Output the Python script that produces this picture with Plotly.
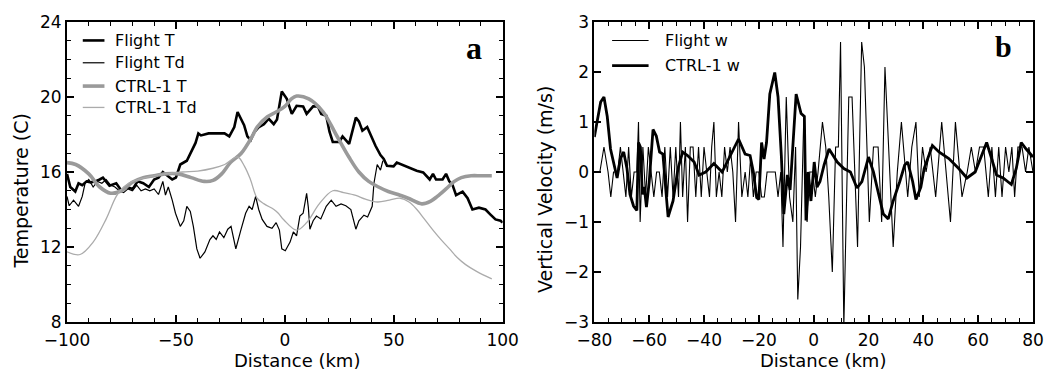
import plotly.graph_objects as go

# ---------------- Panel a data ----------------
flight_T_x = [-100, -98.5, -96.2, -94.7, -93, -91, -89, -87, -85, -83.5,
              -80.5, -77.4, -75, -72.7, -69.8, -67.6, -65, -62.4, -60, -58,
              -56, -54, -51.7, -50, -48, -45, -42.7, -41, -39.7, -38.5,
              -35, -30, -27.7, -25.5, -23.2, -21.7, -20.2, -18.7, -17.2, -15.7,
              -14.2, -11.9, -9.6, -7.4, -5.1, -3.6, -1.4, 0.9, 3.2, 5.4,
              8.4, 10, 13, 15.2, 16.7, 19, 20.5, 22, 25, 26.5,
              29.5, 32.6, 34, 35.6, 37.8, 39.4, 41.6, 43.9, 45.4, 46.9,
              49.9, 51.4, 54.4, 57.5, 60.5, 63.5, 66.5, 68, 69.4, 72.4,
              74, 75.5, 77, 78.6, 81.6, 83.9, 86.1, 89.1, 92.1, 94.4,
              96.7, 99, 100]
flight_T = [15.9, 15.2, 14.96, 15.4, 15.3, 15.5, 15.45, 15.5, 15.6, 15.7,
            15.27, 15.4, 15.0, 15.2, 15.1, 15.5, 15.4, 15.2, 15.6, 15.7,
            16.0, 15.8, 15.6, 15.7, 16.4, 16.6, 17.1, 17.55, 18.06, 17.95,
            18.06, 18.06, 18.06, 17.9, 18.4, 19.2, 18.8, 18.5, 17.9, 17.7,
            18.1, 18.4, 18.55, 18.84, 18.55, 18.8, 20.3, 19.9, 19.1, 19.53,
            19.5, 19.1, 19.5, 19.5, 19.1, 19.0, 18.15, 17.6, 17.6, 17.9,
            17.5, 18.9, 18.7, 18.2, 18.4, 17.97, 17.4, 16.9, 16.7, 16.33,
            16.3, 16.5, 16.35, 16.2, 16.07, 15.98, 15.6, 15.9, 15.6, 15.6,
            15.9, 15.5, 15.3, 14.77, 14.95, 14.6, 14.0, 14.1, 14.0, 13.73,
            13.47, 13.4, 13.3]

flight_Td_x = [-100, -99, -97, -94.7, -93, -91.7, -90, -88, -86, -84,
               -82, -80, -78, -76, -74, -72, -70, -68, -66, -64,
               -62, -60, -58, -56, -54.8, -53.5, -51.7, -50.2, -48, -46.4,
               -45, -43.4, -42, -40.4, -38.9, -36.7, -34.4, -33, -31.5, -30,
               -28, -26.2, -24.7, -22.5, -20.2, -18, -16.4, -15, -13.4, -12,
               -10.4, -8.2, -5.9, -4, -2.5, -1.4, 0.2, 2.4, 3.9, 5.4,
               6.9, 8.4, 10, 10.8, 11.5, 13, 14.5, 16.5, 19, 21.3,
               23.5, 25.8, 28, 30.3, 32.6, 34, 36.3, 38, 40.1, 40.9,
               42.4, 43.9, 45]
flight_Td = [14.7, 14.2, 14.5, 14.17, 14.7, 15.4, 15.6, 15.2, 15.5, 15.4,
             15.6, 15.3, 15.2, 15.0, 14.9, 15.1, 15.0, 15.3, 15.0, 15.1,
             15.0, 15.1, 14.8, 15.5, 14.77, 15.2, 14.5, 13.8, 13.1, 13.4,
             14.17, 13.9, 13.1, 11.9, 11.4, 11.74, 12.4, 12.6, 12.4, 12.8,
             12.5, 12.95, 13.1, 11.9, 12.9, 13.8, 14.17, 14.0, 14.7, 14.0,
             13.47, 13.1, 13.0, 13.3, 12.9, 11.9, 11.8, 12.26, 12.8, 12.6,
             13.65, 13.8, 14.86, 14.1, 12.95, 13.4, 13.65, 13.5, 14.17, 14.5,
             14.17, 14.3, 14.2, 14.0, 12.95, 13.4, 13.7, 13.6, 14.17, 15.4,
             16.4, 16.1, 16.6]

ctrl_T_x = [-100, -96, -90, -85, -80, -75, -70, -65, -60, -55,
            -49, -43, -37, -33, -29, -25, -20, -15, -12.7, -8,
            -4, 0, 3, 5.4, 11, 17.6, 23.5, 29.4, 34, 38.5,
            43, 47.5, 52, 56.6, 62.9, 67, 70, 74, 77.8, 81,
            85.5, 90, 95]
ctrl_T = [16.5, 16.4, 15.9, 15.2, 14.87, 15.0, 15.45, 15.7, 15.8, 15.9,
          15.9, 15.7, 15.5, 15.55, 15.9, 16.5, 17.0, 17.9, 18.4, 18.95,
          19.2, 19.5, 19.9, 20.05, 19.9, 19.2, 18.0, 16.8, 16.0, 15.5,
          15.2, 14.96, 14.8, 14.6, 14.3, 14.45, 14.7, 15.1, 15.5, 15.7,
          15.8, 15.8, 15.8]

ctrl_Td_x = [-100, -94, -88, -82, -77.4, -74, -70, -62, -55, -47,
             -40, -33, -27.6, -21.7, -18.5, -15.8, -12.7, -9.5, -5, -3,
             -0.5, 5.4, 10, 15.8, 22, 27, 32.6, 37, 42.5, 48,
             53, 57, 60.6, 64, 68, 72, 75.6, 79, 83, 88,
             95]
ctrl_Td = [11.74, 11.6, 12.26, 13.5, 14.7, 15.2, 15.5, 15.75, 15.9, 16.0,
           16.05, 16.2, 16.4, 16.8, 16.3, 15.6, 14.6, 14.3, 14.0, 13.8,
           13.45, 12.9, 13.3, 14.3, 15.0, 14.9, 14.75, 14.55, 14.4, 14.5,
           14.6, 14.4, 14.0, 13.5, 12.9, 12.35, 11.9, 11.45, 11.06, 10.7,
           10.3]

# ---------------- Panel b data ----------------
flight_w_x = [-80, -78, -76.5, -75, -74, -73, -71.5, -70.5, -69.5, -68.5,
              -67.5, -66.5, -65.5, -64.5, -63.9, -63.3, -62.3, -61.3, -60.3, -59.3,
              -58.3, -57.3, -56.3, -55.3, -54.3, -53.3, -52.3, -51.3, -50.3, -49.3,
              -48.6, -47.8, -46.8, -46, -45, -44, -43, -42, -41, -40,
              -39, -38, -37.2, -36.4, -35.5, -34.5, -33.5, -32.5, -31.5, -30.5,
              -29.5, -28.5, -27.4, -26.2, -25, -24, -23, -22, -21, -20,
              -19, -18, -17, -16, -15, -14, -13, -12, -11.2, -10,
              -8.8, -7.6, -6.6, -5.8, -4.8, -3.6, -2.4, -1.4, -0.4, 0.6,
              1.6, 3.2, 4.4, 5.5, 6.8, 8, 9, 9.8, 11, 12.8,
              14, 16, 17.5, 18.5, 20.3, 21.8, 23.5, 24.8, 26, 29,
              30.5, 32, 34.3, 35.8, 37.3, 38.5, 39.7, 41, 42.5, 44.5,
              46.7, 48.3, 49.9, 51.7, 54.1, 56, 57.5, 59, 60.5, 62,
              63.7, 65, 66.3, 67.5, 68.7, 70, 71.2, 72.3, 73.3, 74.5,
              76, 77.3, 78.5, 80]
flight_w = [0, 0, 0.5, 0, -0.5, 0, 0, 0.5, 0, -0.5,
            0.5, -0.5, 0, 0, 1.0, -1.0, 0.5, -0.5, 0.5, 0,
            -0.5, 0, 0, -0.5, 0.5, -0.5, 0.5, -0.5, 0.5, -0.5,
            1.0, -0.5, 0.5, -1.0, 0.5, 0.5, -0.5, 0.5, -0.5, 0.5,
            0, -0.5, 0.5, 1.0, -0.5, 0, -0.5, 0.5, 0, 0.5,
            0, -1.0, 1.0, -0.5, 0, -0.5, 0.3, -0.5, 0, 0,
            -0.5, -0.5, 0, 0, 0, 0, -0.5, 0, -1.5, 1.5,
            -0.5, -1.0, 0.5, -2.55, -1.5, 1.1, -1.0, 0, 0, -0.5,
            0, 1.0, 0.5, -0.5, -2.0, 0.5, 0.5, 2.6, -3.1, 1.5,
            1.5, -1.5, 2.6, 2.1, -1.0, 0.5, 0.5, -1.0, 2.1, -1.5,
            0, 1.0, -0.5, 0.5, 1.0, -0.5, 0.5, 0, 0.5, -0.5,
            1.0, 0, -1.0, 1.0, -0.5, 0, 0.5, 0, 0.5, 0.5,
            -0.5, 0.5, -0.5, 0.5, -0.5, 0.5, 0, 0.5, -0.5, 0.5,
            0.5, 0, 0.5, 0]

ctrl_w_x = [-80, -78.9, -77.7, -76.5, -75.3, -74.1, -72.9, -71.7, -70.5, -69.3,
            -68.1, -67, -65.7, -64.5, -63.9, -63.2, -62.5, -61.8, -61, -60,
            -58.6, -57.4, -56.2, -55, -53.8, -53.1, -51.3, -49.5, -47.8, -46,
            -43.6, -41.8, -39.4, -36.4, -33.4, -30.4, -28.6, -27.4, -25, -23.2,
            -22, -20.8, -20, -19, -18.1, -17.2, -16, -14.2, -13, -11.8,
            -10.9, -9.6, -8.6, -7.6, -6.4, -4.6, -3.4, -2.8, -2, -1,
            0.2, 1.2, 2.3, 3.8, 5.6, 8.6, 11, 13.4, 15.8, 17.6,
            20, 21.8, 24.2, 25.4, 27.2, 29, 31.4, 33.2, 34.3, 36.1,
            37.3, 39.1, 40.3, 43.3, 45.7, 49.3, 52.9, 55.9, 58.9, 61.3,
            63.1, 64.9, 66.7, 69.1, 72.1, 73.9, 75.7, 77.5, 80]
ctrl_w = [0.7, 1.05, 1.4, 1.5, 1.11, 0.46, 0.2, -0.12, 0.27, 0.4,
          0.07, -0.45, -0.68, -0.77, 0.59, 0.5, -0.45, -0.3, -0.7, -0.2,
          0.85, 0.72, 0.4, 0.36, -0.45, -0.9, -0.58, 0.07, 0.4, 0.33,
          0.2, -0.06, 0.0, 0.17, 0.0, 0.33, 0.53, 0.66, 0.36, 0.33,
          0.0, -0.51, -0.55, 0.59, 0.26, 0.59, 1.56, 1.99, 1.5, 0.33,
          -0.84, -0.06, -0.36, 0.59, 1.56, 1.17, 1.11, -0.97, 0.0, -0.58,
          0.2, -0.3, -0.19, 0.14, 0.46, 0.2, 0.07, 0.0, -0.32, -0.19,
          0.3, 0.0, -0.58, -0.84, -0.94, -0.58, -0.19, 0.14, 0.2, -0.19,
          -0.55, -0.3, 0.07, 0.53, 0.4, 0.27, 0.07, -0.12, 0.0, 0.33,
          0.59, 0.27, -0.06, -0.12, -0.25, 0.07, 0.59, 0.46, 0.3]

legend_a = ["Flight T", "Flight Td", "CTRL-1 T", "CTRL-1 Td"]
legend_b = ["Flight w", "CTRL-1 w"]

# ---------------- styles ----------------
FONT = "DejaVu Sans"
BLACK = "#000000"
GRAY_T = "#9a9a9a"
GRAY_TD = "#ababab"
styles_a = [dict(color=BLACK, width=2.6), dict(color=BLACK, width=1.2),
            dict(color=GRAY_T, width=3.6), dict(color=GRAY_TD, width=1.3)]
styles_b = [dict(color=BLACK, width=1.1), dict(color=BLACK, width=2.8)]

fig = go.Figure()
fig.add_trace(go.Scatter(x=flight_T_x, y=flight_T, mode="lines", line=styles_a[0],
                         xaxis="x", yaxis="y", name=legend_a[0]))
fig.add_trace(go.Scatter(x=flight_Td_x, y=flight_Td, mode="lines", line=styles_a[1],
                         xaxis="x", yaxis="y", name=legend_a[1]))
fig.add_trace(go.Scatter(x=ctrl_T_x, y=ctrl_T, mode="lines", line=dict(styles_a[2], shape="spline", smoothing=1.0),
                         xaxis="x", yaxis="y", name=legend_a[2]))
fig.add_trace(go.Scatter(x=ctrl_Td_x, y=ctrl_Td, mode="lines", line=dict(styles_a[3], shape="spline", smoothing=1.0),
                         xaxis="x", yaxis="y", name=legend_a[3]))
fig.add_trace(go.Scatter(x=flight_w_x, y=flight_w, mode="lines", line=styles_b[0],
                         xaxis="x2", yaxis="y2", name=legend_b[0]))
fig.add_trace(go.Scatter(x=ctrl_w_x, y=ctrl_w, mode="lines", line=styles_b[1],
                         xaxis="x2", yaxis="y2", name=legend_b[1]))

W, H = 1061, 371
ML, MR, MT, MB = 67, 14, 13, 49
PW, PH = W - ML - MR, H - MT - MB


def px(xp):
    return (xp - ML) / PW


def py(yp):
    return (H - MB - yp) / PH


axis_common = dict(showline=True, linewidth=2, linecolor=BLACK, mirror="allticks",
                   ticks="inside", ticklen=7, tickwidth=1.5, tickcolor=BLACK,
                   showgrid=False, zeroline=False,
                   tickfont=dict(family=FONT, size=17, color=BLACK))

fig.update_layout(
    width=W, height=H,
    margin=dict(l=ML, r=MR, t=MT, b=MB),
    paper_bgcolor="white", plot_bgcolor="white",
    showlegend=False,
    xaxis=dict(axis_common, domain=[0, px(509)], range=[-100, 100], tick0=-100, dtick=50,
               minor=dict(dtick=10, ticklen=4, tickwidth=1.3, tickcolor=BLACK, ticks="inside"),
               ticklabelstandoff=2, anchor="y"),
    yaxis=dict(axis_common, domain=[0, 1], range=[8, 24], tick0=8, dtick=4,
               minor=dict(dtick=1, ticklen=4, tickwidth=1.3, tickcolor=BLACK, ticks="inside"),
               anchor="x"),
    xaxis2=dict(axis_common, domain=[px(602), 1], range=[-80, 80], tick0=-80, dtick=20,
                minor=dict(dtick=5, ticklen=4, tickwidth=1.3, tickcolor=BLACK, ticks="inside"),
                ticklabelstandoff=2, anchor="y2"),
    yaxis2=dict(axis_common, domain=[0, 1], range=[-3, 3], tick0=-3, dtick=1,
                anchor="x2"),
)

title_font = dict(family=FONT, size=18, color=BLACK)
ann = []
ann.append(dict(text="Temperature (C)", x=px(20), y=py(187), xref="paper", yref="paper",
                textangle=-90, showarrow=False, font=dict(title_font, size=19),
                xanchor="center", yanchor="middle"))
ann.append(dict(text="Distance (km)", x=px(300), y=py(362), xref="paper", yref="paper",
                showarrow=False, font=title_font, xanchor="center", yanchor="middle"))
ann.append(dict(text="Vertical Velocity (m/s)", x=px(552), y=py(186), xref="paper", yref="paper",
                textangle=-90, showarrow=False, font=dict(title_font, size=19),
                xanchor="center", yanchor="middle"))
ann.append(dict(text="Distance (km)", x=px(834), y=py(362), xref="paper", yref="paper",
                showarrow=False, font=title_font, xanchor="center", yanchor="middle"))
ann.append(dict(text="<b>a</b>", x=px(480), y=py(40), xref="paper", yref="paper",
                showarrow=False, font=dict(family="Liberation Serif", size=32, color=BLACK),
                xanchor="center", yanchor="middle"))
ann.append(dict(text="<b>b</b>", x=px(1017), y=py(38), xref="paper", yref="paper",
                showarrow=False, font=dict(family="Liberation Serif", size=30, color=BLACK),
                xanchor="center", yanchor="middle"))

shapes = []
leg_font = dict(family=FONT, size=16, color=BLACK)
rows_a = [32, 55, 79, 101]
for name, st, yy in zip(legend_a, styles_a, rows_a):
    shapes.append(dict(type="line", xref="paper", yref="paper", x0=px(83), x1=px(105),
                       y0=py(yy), y1=py(yy), line=st))
    ann.append(dict(text=name, x=px(114), y=py(yy), xref="paper", yref="paper",
                    showarrow=False, font=leg_font, xanchor="left", yanchor="middle"))
rows_b = [32, 58]
for name, st, yy in zip(legend_b, styles_b, rows_b):
    shapes.append(dict(type="line", xref="paper", yref="paper", x0=px(620), x1=px(657),
                       y0=py(yy), y1=py(yy), line=st))
    ann.append(dict(text=name, x=px(672), y=py(yy), xref="paper", yref="paper",
                    showarrow=False, font=leg_font, xanchor="left", yanchor="middle"))

fig.update_layout(annotations=ann, shapes=shapes)
fig.write_html("out.html")
